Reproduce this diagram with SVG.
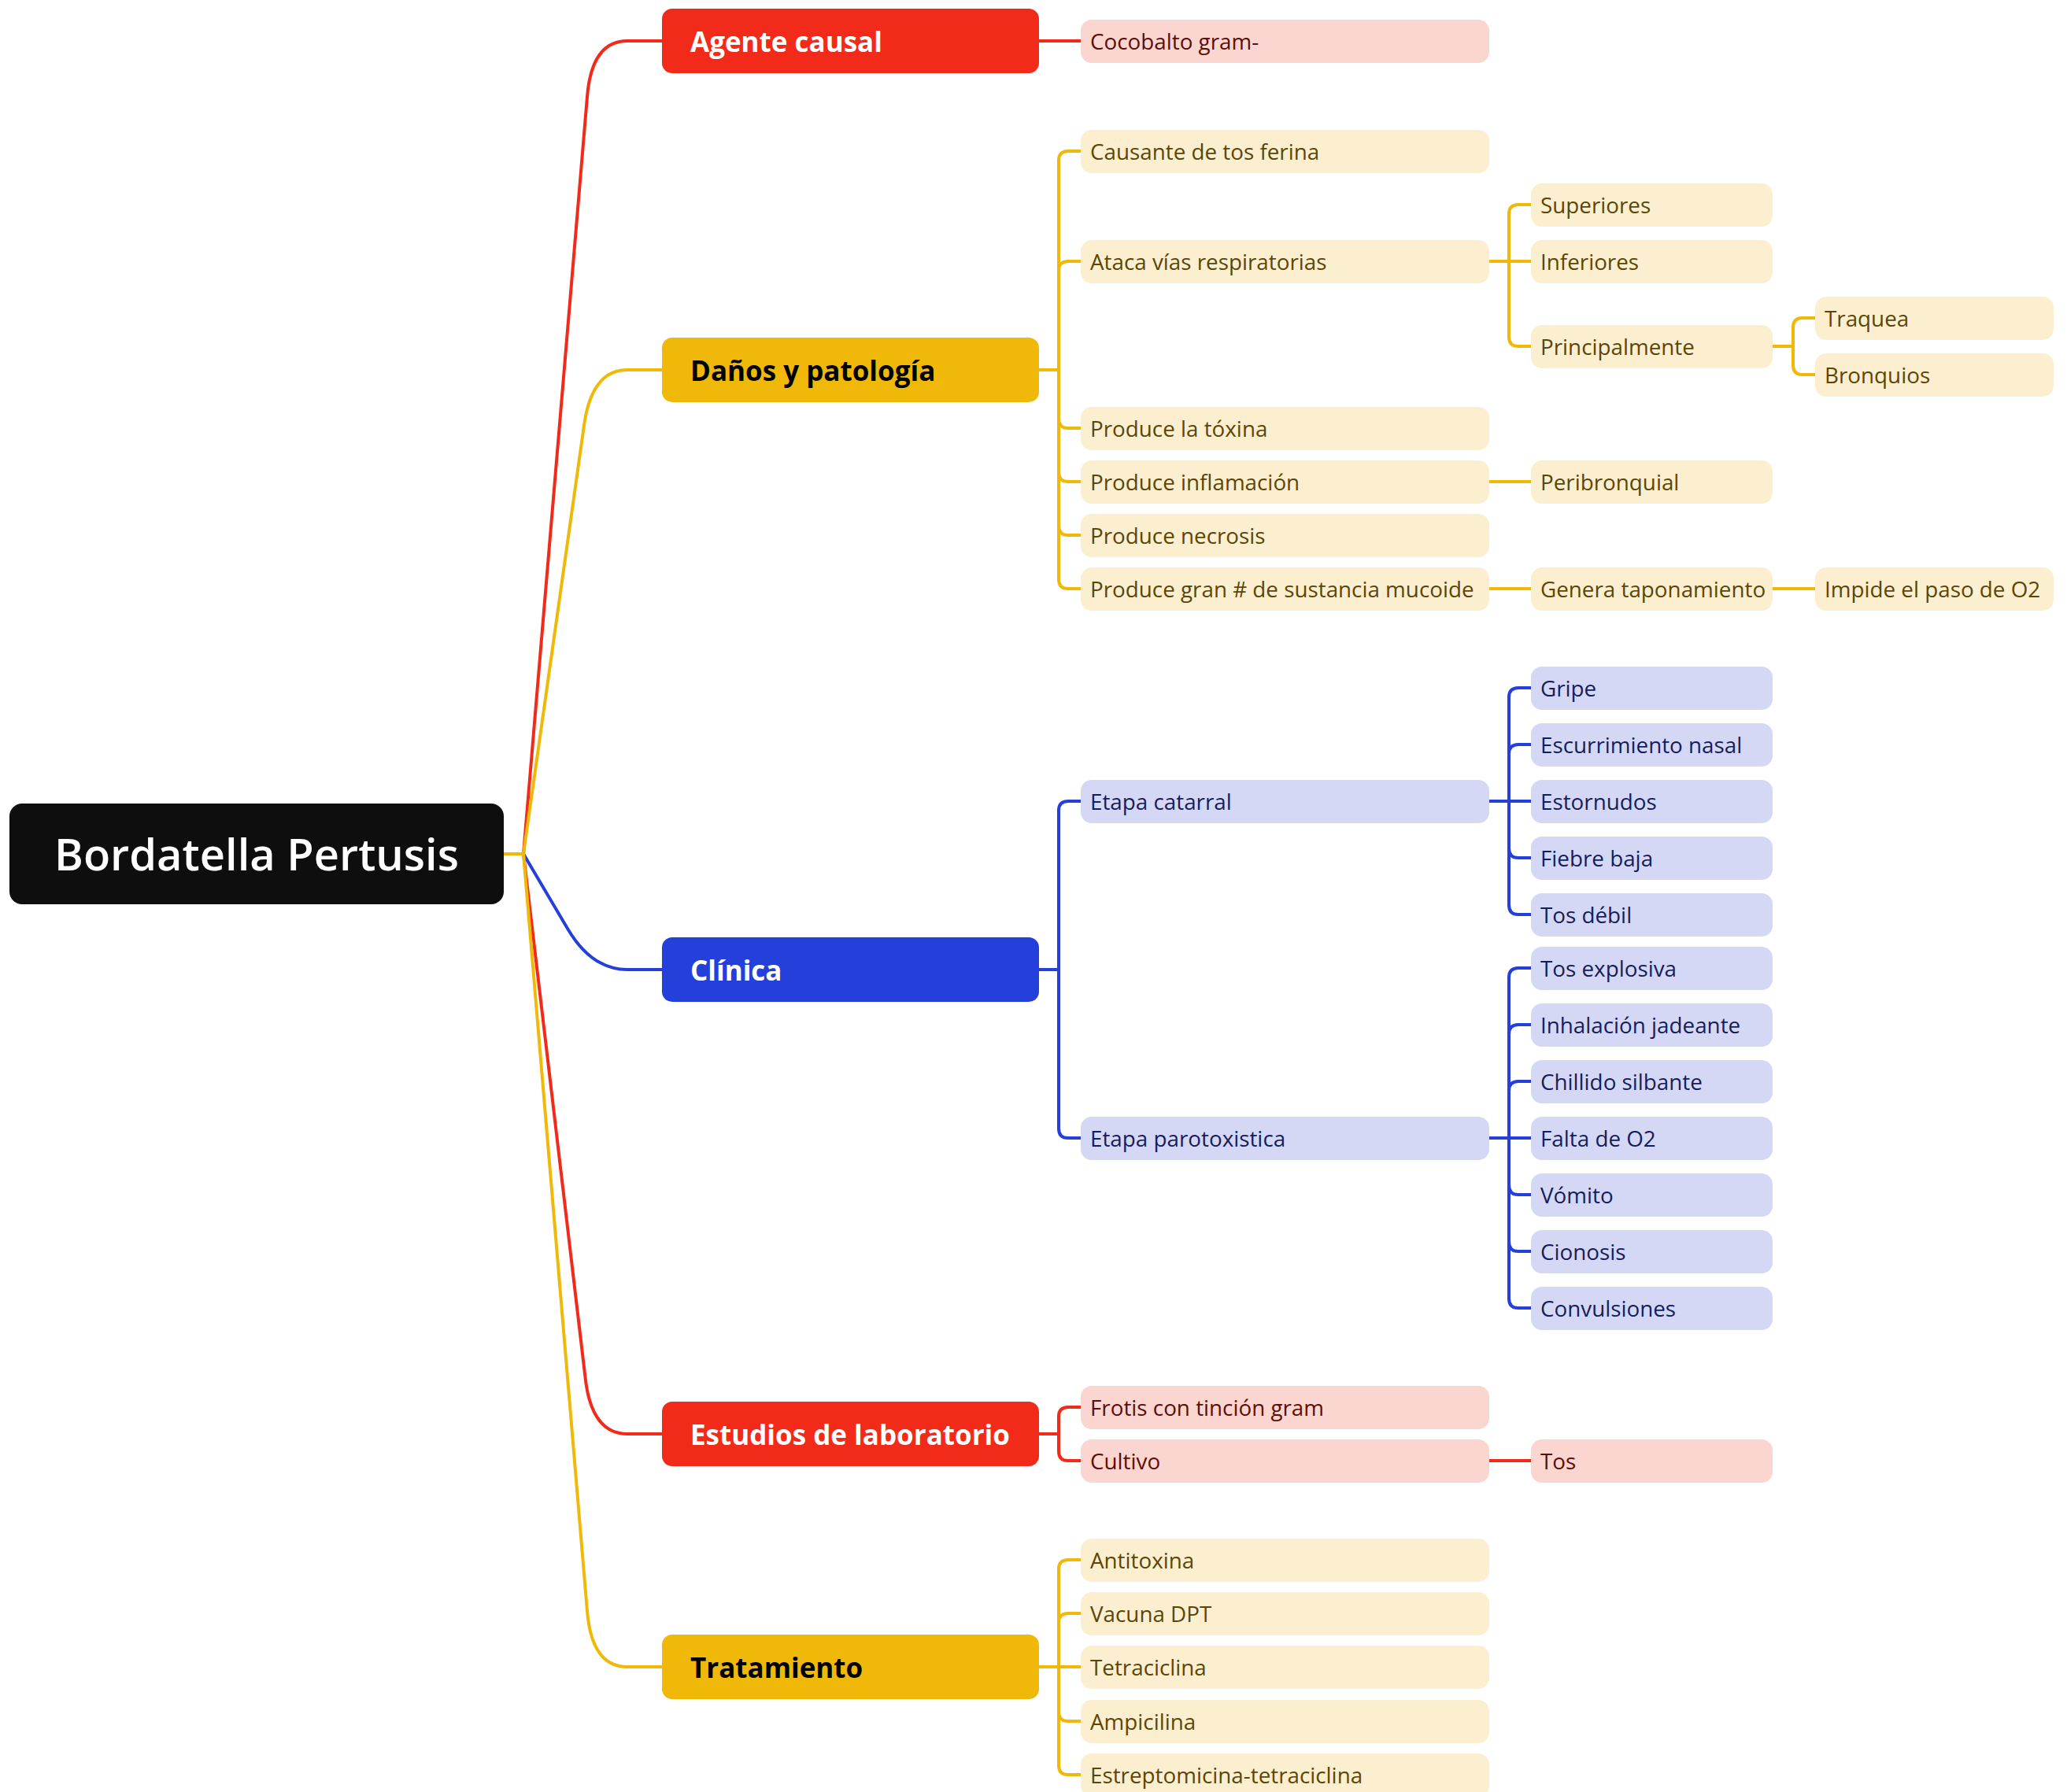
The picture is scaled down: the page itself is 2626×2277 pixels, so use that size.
<svg xmlns="http://www.w3.org/2000/svg" width="2626" height="2277" viewBox="0 0 2626 2277">
<style>
text{font-family:"Open Sans","Noto Sans",Lato,sans-serif}
.c{fill:none;stroke-width:4;stroke-linecap:round;stroke-linejoin:round}
.cr{stroke:#f12a19}.cy{stroke:#f0b909}.cb{stroke:#2540da}
.m{font-size:35px;font-weight:700}
.s{font-size:27.8px}
.lr{fill:#fbd5d0}.ly{fill:#fcefcf}.lb{fill:#d4d8f5}
.tr{fill:#5c0e08}.ty{fill:#5b4609}.tb{fill:#161d5c}
</style>
<rect width="2626" height="2277" fill="#ffffff"/>
<g id="connectors">
<path class="c cr" d="M640 1085 H665 L746.1 121.8 Q752 52 797 52 H841"/>
<path class="c cy" d="M640 1085 H665 L742.2 539.3 Q752 470 797 470 H841"/>
<path class="c cb" d="M640 1085 H665 L721.4 1180.4 Q752 1232 797 1232 H841"/>
<path class="c cr" d="M640 1085 H665 L743.8 1752.5 Q752 1822 797 1822 H841"/>
<path class="c cy" d="M640 1085 H665 L746.1 2048.2 Q752 2118 797 2118 H841"/>
<path class="c cr" d="M1320 52 H1373"/>
<path class="c cy" d="M1320 470 H1345 V204 Q1345 192 1357 192 H1373"/>
<path class="c cy" d="M1320 470 H1345 V344 Q1345 332 1357 332 H1373"/>
<path class="c cy" d="M1320 470 H1345 V532 Q1345 544 1357 544 H1373"/>
<path class="c cy" d="M1320 470 H1345 V600 Q1345 612 1357 612 H1373"/>
<path class="c cy" d="M1320 470 H1345 V668 Q1345 680 1357 680 H1373"/>
<path class="c cy" d="M1320 470 H1345 V736 Q1345 748 1357 748 H1373"/>
<path class="c cy" d="M1892 332 H1917 V272 Q1917 260 1929 260 H1945"/>
<path class="c cy" d="M1892 332 H1945"/>
<path class="c cy" d="M1892 332 H1917 V428 Q1917 440 1929 440 H1945"/>
<path class="c cy" d="M2252 440 H2278 V416 Q2278 404 2290 404 H2306"/>
<path class="c cy" d="M2252 440 H2278 V464 Q2278 476 2290 476 H2306"/>
<path class="c cy" d="M1892 612 H1945"/>
<path class="c cy" d="M1892 748 H1945"/>
<path class="c cy" d="M2252 748 H2306"/>
<path class="c cb" d="M1320 1232 H1345 V1030 Q1345 1018 1357 1018 H1373"/>
<path class="c cb" d="M1320 1232 H1345 V1434 Q1345 1446 1357 1446 H1373"/>
<path class="c cb" d="M1892 1018 H1917 V886 Q1917 874 1929 874 H1945"/>
<path class="c cb" d="M1892 1018 H1917 V958 Q1917 946 1929 946 H1945"/>
<path class="c cb" d="M1892 1018 H1945"/>
<path class="c cb" d="M1892 1018 H1917 V1078 Q1917 1090 1929 1090 H1945"/>
<path class="c cb" d="M1892 1018 H1917 V1150 Q1917 1162 1929 1162 H1945"/>
<path class="c cb" d="M1892 1446 H1917 V1242 Q1917 1230 1929 1230 H1945"/>
<path class="c cb" d="M1892 1446 H1917 V1314 Q1917 1302 1929 1302 H1945"/>
<path class="c cb" d="M1892 1446 H1917 V1386 Q1917 1374 1929 1374 H1945"/>
<path class="c cb" d="M1892 1446 H1945"/>
<path class="c cb" d="M1892 1446 H1917 V1506 Q1917 1518 1929 1518 H1945"/>
<path class="c cb" d="M1892 1446 H1917 V1578 Q1917 1590 1929 1590 H1945"/>
<path class="c cb" d="M1892 1446 H1917 V1650 Q1917 1662 1929 1662 H1945"/>
<path class="c cr" d="M1320 1822 H1345 V1800 Q1345 1788 1357 1788 H1373"/>
<path class="c cr" d="M1320 1822 H1345 V1844 Q1345 1856 1357 1856 H1373"/>
<path class="c cr" d="M1892 1856 H1945"/>
<path class="c cy" d="M1320 2118 H1345 V1994 Q1345 1982 1357 1982 H1373"/>
<path class="c cy" d="M1320 2118 H1345 V2062 Q1345 2050 1357 2050 H1373"/>
<path class="c cy" d="M1320 2118 H1373"/>
<path class="c cy" d="M1320 2118 H1345 V2175 Q1345 2187 1357 2187 H1373"/>
<path class="c cy" d="M1320 2118 H1345 V2243 Q1345 2255 1357 2255 H1373"/>
</g>
<g id="root"><rect x="12" y="1021" width="628" height="128" rx="16" fill="#0e0e0e"/><text x="326" y="1106" text-anchor="middle" font-size="56" font-weight="600" fill="#ffffff">Bordatella Pertusis</text></g>
<g id="agente"><rect x="841" y="11" width="479" height="82" rx="13" fill="#f12a19"/><text class="m" x="877" y="66" fill="#ffffff">Agente causal</text></g>
<g id="danos"><rect x="841" y="429" width="479" height="82" rx="13" fill="#f0b909"/><text class="m" x="877" y="484" fill="#000000">Daños y patología</text></g>
<g id="clinica"><rect x="841" y="1191" width="479" height="82" rx="13" fill="#2540da"/><text class="m" x="877" y="1246" fill="#ffffff">Clínica</text></g>
<g id="estudios"><rect x="841" y="1781" width="479" height="82" rx="13" fill="#f12a19"/><text class="m" x="877" y="1836" fill="#ffffff">Estudios de laboratorio</text></g>
<g id="tratamiento"><rect x="841" y="2077" width="479" height="82" rx="13" fill="#f0b909"/><text class="m" x="877" y="2132" fill="#000000">Tratamiento</text></g>

<g id="cocobalto"><rect class="lr" x="1373" y="25" width="519" height="55" rx="14"/><text class="s tr" x="1385" y="63">Cocobalto gram-</text></g>

<g id="causante"><rect class="ly" x="1373" y="165" width="519" height="55" rx="14"/><text class="s ty" x="1385" y="203">Causante de tos ferina</text></g>
<g id="ataca"><rect class="ly" x="1373" y="305" width="519" height="55" rx="14"/><text class="s ty" x="1385" y="343">Ataca vías respiratorias</text></g>
<g id="superiores"><rect class="ly" x="1945" y="233" width="307" height="55" rx="14"/><text class="s ty" x="1957" y="271">Superiores</text></g>
<g id="inferiores"><rect class="ly" x="1945" y="305" width="307" height="55" rx="14"/><text class="s ty" x="1957" y="343">Inferiores</text></g>
<g id="principalmente"><rect class="ly" x="1945" y="413" width="307" height="55" rx="14"/><text class="s ty" x="1957" y="451">Principalmente</text></g>
<g id="traquea"><rect class="ly" x="2306" y="377" width="303" height="55" rx="14"/><text class="s ty" x="2318" y="415">Traquea</text></g>
<g id="bronquios"><rect class="ly" x="2306" y="449" width="303" height="55" rx="14"/><text class="s ty" x="2318" y="487">Bronquios</text></g>
<g id="toxina"><rect class="ly" x="1373" y="517" width="519" height="55" rx="14"/><text class="s ty" x="1385" y="555">Produce la tóxina</text></g>
<g id="inflamacion"><rect class="ly" x="1373" y="585" width="519" height="55" rx="14"/><text class="s ty" x="1385" y="623">Produce inflamación</text></g>
<g id="peribronquial"><rect class="ly" x="1945" y="585" width="307" height="55" rx="14"/><text class="s ty" x="1957" y="623">Peribronquial</text></g>
<g id="necrosis"><rect class="ly" x="1373" y="653" width="519" height="55" rx="14"/><text class="s ty" x="1385" y="691">Produce necrosis</text></g>
<g id="mucoide"><rect class="ly" x="1373" y="721" width="519" height="55" rx="14"/><text class="s ty" x="1385" y="759">Produce gran # de sustancia mucoide</text></g>
<g id="taponamiento"><rect class="ly" x="1945" y="721" width="307" height="55" rx="14"/><text class="s ty" x="1957" y="759">Genera taponamiento</text></g>
<g id="impide"><rect class="ly" x="2306" y="721" width="303" height="55" rx="14"/><text class="s ty" x="2318" y="759">Impide el paso de O2</text></g>

<g id="catarral"><rect class="lb" x="1373" y="991" width="519" height="55" rx="14"/><text class="s tb" x="1385" y="1029">Etapa catarral</text></g>
<g id="gripe"><rect class="lb" x="1945" y="847" width="307" height="55" rx="14"/><text class="s tb" x="1957" y="885">Gripe</text></g>
<g id="escurrimiento"><rect class="lb" x="1945" y="919" width="307" height="55" rx="14"/><text class="s tb" x="1957" y="957">Escurrimiento nasal</text></g>
<g id="estornudos"><rect class="lb" x="1945" y="991" width="307" height="55" rx="14"/><text class="s tb" x="1957" y="1029">Estornudos</text></g>
<g id="fiebre"><rect class="lb" x="1945" y="1063" width="307" height="55" rx="14"/><text class="s tb" x="1957" y="1101">Fiebre baja</text></g>
<g id="tosdebil"><rect class="lb" x="1945" y="1135" width="307" height="55" rx="14"/><text class="s tb" x="1957" y="1173">Tos débil</text></g>
<g id="parotoxistica"><rect class="lb" x="1373" y="1419" width="519" height="55" rx="14"/><text class="s tb" x="1385" y="1457">Etapa parotoxistica</text></g>
<g id="explosiva"><rect class="lb" x="1945" y="1203" width="307" height="55" rx="14"/><text class="s tb" x="1957" y="1241">Tos explosiva</text></g>
<g id="inhalacion"><rect class="lb" x="1945" y="1275" width="307" height="55" rx="14"/><text class="s tb" x="1957" y="1313">Inhalación jadeante</text></g>
<g id="chillido"><rect class="lb" x="1945" y="1347" width="307" height="55" rx="14"/><text class="s tb" x="1957" y="1385">Chillido silbante</text></g>
<g id="falta"><rect class="lb" x="1945" y="1419" width="307" height="55" rx="14"/><text class="s tb" x="1957" y="1457">Falta de O2</text></g>
<g id="vomito"><rect class="lb" x="1945" y="1491" width="307" height="55" rx="14"/><text class="s tb" x="1957" y="1529">Vómito</text></g>
<g id="cionosis"><rect class="lb" x="1945" y="1563" width="307" height="55" rx="14"/><text class="s tb" x="1957" y="1601">Cionosis</text></g>
<g id="convulsiones"><rect class="lb" x="1945" y="1635" width="307" height="55" rx="14"/><text class="s tb" x="1957" y="1673">Convulsiones</text></g>

<g id="frotis"><rect class="lr" x="1373" y="1761" width="519" height="55" rx="14"/><text class="s tr" x="1385" y="1799">Frotis con tinción gram</text></g>
<g id="cultivo"><rect class="lr" x="1373" y="1829" width="519" height="55" rx="14"/><text class="s tr" x="1385" y="1867">Cultivo</text></g>
<g id="tos"><rect class="lr" x="1945" y="1829" width="307" height="55" rx="14"/><text class="s tr" x="1957" y="1867">Tos</text></g>

<g id="antitoxina"><rect class="ly" x="1373" y="1955" width="519" height="55" rx="14"/><text class="s ty" x="1385" y="1993">Antitoxina</text></g>
<g id="vacuna"><rect class="ly" x="1373" y="2023" width="519" height="55" rx="14"/><text class="s ty" x="1385" y="2061">Vacuna DPT</text></g>
<g id="tetraciclina"><rect class="ly" x="1373" y="2091" width="519" height="55" rx="14"/><text class="s ty" x="1385" y="2129">Tetraciclina</text></g>
<g id="ampicilina"><rect class="ly" x="1373" y="2160" width="519" height="55" rx="14"/><text class="s ty" x="1385" y="2198">Ampicilina</text></g>
<g id="estreptomicina"><rect class="ly" x="1373" y="2228" width="519" height="55" rx="14"/><text class="s ty" x="1385" y="2266">Estreptomicina-tetraciclina</text></g>
</svg>
